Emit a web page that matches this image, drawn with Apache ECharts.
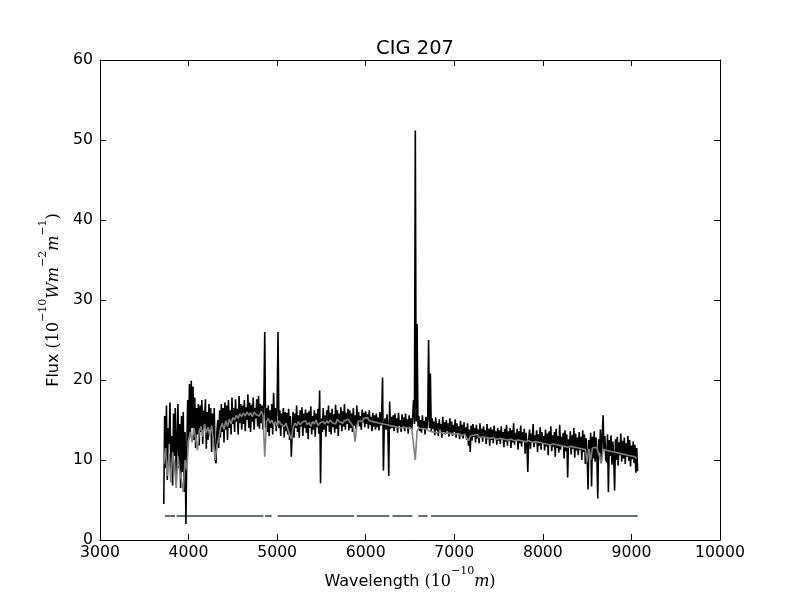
<!DOCTYPE html>
<html>
<head>
<meta charset="utf-8">
<script src="https://cdn.jsdelivr.net/npm/echarts@6/dist/echarts.min.js"></script>
<style>
html,body{margin:0;padding:0;background:#fff;}
#c{width:800px;height:600px;}
</style>
</head>
<body>
<div id="c"></div>
<script>
// Observed spectrum: wavelength grid start/step (Angstrom) and flux values
const OBS_START = 3720;
const OBS_STEP = 10;
const obsFlux = [
4.5,15.5,9,16.8,7.5,14,12,17.2,8.2,13,
6.8,15.8,10.5,16.5,7.8,12.5,17,9,14.5,6.5,
15.5,8.5,16,6,13.5,2,11,17.5,12.5,19.5,
13,19.9,14,19.2,12.5,17.8,11.5,16.5,13.2,17,
11.8,16.8,13.5,17.5,12,16.2,14.5,17.6,11.4,16,
12.5,17,13.8,16.5,11,15.8,12.8,16.5,10,9.6,
13.5,15,11.5,16.2,12.8,17,13.5,16.5,12.2,17.2,
13.8,16.8,12.5,17.5,14,16.2,13.2,17.8,14.5,16.5,
13.5,17.6,14.8,16.4,13.2,18,14.6,17,13.8,16.8,
14.5,17.5,13.6,16.6,15,18.2,14,17.2,13.5,16.9,
14.8,17.8,13.8,16.5,15.2,17.6,14.2,18,13.9,17,
14.6,16.8,13.8,17.2,26,14,16.5,13.5,16.8,13,
16.2,14,17,13.2,18.4,14.5,16.5,13.6,16.8,26,
14,16.2,13,15.8,14.2,16.5,12.8,16,13.6,15.9,
13.2,16.4,12.5,15.5,10.4,13.5,16,12.8,15.8,14,
16.8,13.5,15.6,12.8,16.2,14.2,16.6,13,15.8,14,
16.3,13.4,15.9,12.6,16.1,14,16.7,13.2,15.5,13.8,
16.2,12.9,15.8,14.1,16.4,13.3,18.7,7.1,15.2,13.5,
16.5,13.8,15.6,12.9,16.2,14.3,16.8,13.5,15.9,13.2,
16.4,14.1,15.7,13.4,16.9,13.9,16.2,13,15.8,14.4,
16.6,13.6,16.1,14.2,17,13.8,15.9,14.5,16.4,13.7,
16.2,14,15.8,13.5,16.5,14.3,15.6,13.9,16.8,14.6,
16,14.2,15.5,13.8,16.3,14.7,15.9,14.1,16.1,14.5,
15.7,13.9,16.2,14.4,15.4,13.6,15.9,14.2,15.6,13.8,
15.8,14.1,15.3,13.7,16,14.3,15.5,20.3,8.7,14.6,
15.2,13.8,15.7,14.2,8,17.3,13.9,15.4,14,15.6,
13.6,15.8,14.1,15.2,13.4,15.9,14.3,15,13.5,15.7,
14.2,15.3,13.6,15.8,14,15.1,13.3,15.6,14.1,15.2,
13.8,15.4,17.5,14.5,51.2,14.8,27,14.2,15.5,13.6,
15,13.4,15.6,14,14.9,13.2,15.4,13.8,15.1,25,
14,20.8,13.6,15.2,13.9,14.8,13.1,15.3,13.7,14.6,
13,15.1,13.8,14.5,12.8,15.4,13.5,14.7,13.2,15,
13.6,14.6,12.9,15.2,13.4,14.8,13,14.4,13.5,15.1,
12.8,14.6,13.3,14.2,12.6,14.9,13.1,14.4,12.7,14.7,
13.2,14.1,12.5,14.6,11.8,13.8,11,14.3,12.4,14.5,
12.9,14,12.2,14.4,12.7,13.8,12.1,14.6,12.8,13.9,
12.3,14.2,12.9,13.7,12,14.5,12.6,13.9,11.8,14.1,
12.5,13.8,12.1,14.3,12.7,13.6,11.9,14,12.4,13.7,
12,14.2,12.6,13.5,11.6,13.9,12.3,14.4,11.8,13.6,
12.4,14,11.5,13.7,12.2,14.6,11.9,13.4,12.5,13.9,
11.3,13.6,12.1,14.3,11.7,13.5,12.3,13.9,10.8,13.4,
12,8.5,12.6,13.8,11.4,13.3,12.2,14.5,11.6,13.1,
12.1,13.7,11,13.2,11.8,14.1,11.3,13.5,12,13,
11.2,13.8,11.7,13.3,10.6,13.6,11.9,14.2,11.1,13.1,
11.6,13.5,10.4,13.9,11.5,13,10.9,14.4,11.3,12.9,
11.8,13.4,10.2,13.7,11.1,13.2,7.8,12.6,11.5,13.6,
10.7,13.1,11.4,14,10.3,13.3,11.2,12.8,10.6,13.5,
11.3,12.9,10,13.7,11,13.2,9.5,12.7,10.8,6.3,
12.5,10.6,13.4,6.7,12.9,10.2,13.6,9.8,12.8,10.4,
5.2,12.6,10.9,13.8,9.6,12.9,15.6,11.2,13,10.1,
9.7,13.2,6,12.5,10.5,13.1,9.4,12.3,10.3,6.2,
12.6,10,12.9,9.3,12.2,10.6,13.3,9.8,12.4,10.2,
12.8,9.5,12.1,10.4,13,9.9,12.5,9.2,11.8,10.1,
12.3,9.6,11.9,8.4,11.5,8.6
];

// Model fit: wavelength grid start/step and flux values
const MODEL_START = 3720;
const MODEL_STEP = 20;
const modelFlux = [
9.5,11.5,8,10.8,7.2,11,9.5,6.5,10.5,8.5,
7.5,6,10,8.8,12.5,13.5,12.2,14,12.8,11.2,
13.6,14.2,12.9,14.5,13.4,14.1,13,14.3,12.4,10,
11.8,12.5,14,14.6,13.8,14.9,14.2,15.1,14.5,15.3,
15,15.6,15.2,15.8,15.4,15.9,15.5,16,15.6,15.9,
15.4,16,15.7,15.9,15.5,16.1,15.6,10.4,14.8,15.2,
14.6,15,14.4,14.8,14.3,14.9,14.5,14.7,14.2,14.6,
13.9,13.2,12.6,14,14.6,14.3,14.8,14.4,14.7,14.5,
14.9,14.4,14.7,14.2,14.8,14.5,15,14.3,14.6,14.4,
14.8,14.5,14.9,14.6,15,14.7,14.9,14.5,15.1,14.8,
15,14.6,14.9,14.7,15.1,14.8,14.6,14.2,12.3,14.3,
14.9,15.1,14.8,15.2,15,15.3,14.9,15.1,14.8,15,
14.7,14.9,14.6,14.8,14.5,14.7,14.4,14.6,14.3,14.5,
14.2,14.4,14.1,14.3,14,14.2,14.1,14.3,14,14.1,
13.9,14.1,10,13.6,14,13.8,13.9,13.7,13.9,13.8,
13.6,13.8,13.5,13.7,13.4,13.6,13.5,13.7,13.3,13.5,
13.4,13.6,13.3,13.5,13.2,13.4,13.3,13.5,13.1,13.3,
13.2,12.7,12.4,13,13.2,13.1,12.9,13.2,12.8,13,
12.9,13.1,12.8,13,12.7,12.9,12.8,13,12.6,12.8,
12.7,12.9,12.6,12.8,12.5,12.7,12.6,12.8,12.4,12.6,
12.5,12.7,12.4,12.6,12.3,12.5,12.4,12.6,12.2,12.4,
12.3,12.5,12.2,12.4,12.1,12.3,12,12.2,11.9,12.1,
12,12.2,11.9,12.1,11.8,12,11.7,11.9,11.6,11.8,
11.7,11.9,11.6,11.8,11.5,11.7,11.4,11.6,11.3,9.8,
11.4,10,11.5,11.3,11.6,11.2,11.4,9.6,11.3,11.5,
11.2,11.4,11.1,11.3,11,11.2,10.9,11.1,10.8,11,
10.7,10.9,10.6,10.8,10.5,10.7,10.4,10.2
];

// Fitted (unmasked) wavelength ranges, drawn at a constant level
const maskStart = [3734, 3866, 4863, 5005, 5898, 6303, 6594, 6737];
const maskEnd   = [3848, 4843, 4939, 5868, 6267, 6527, 6698, 9070];
const maskLevel = 3;

const xTicks = [3000, 4000, 5000, 6000, 7000, 8000, 9000, 10000];
const yTicks = [0, 10, 20, 30, 40, 50, 60];

const obsData = obsFlux.map((v, i) => [OBS_START + i * OBS_STEP, v]);
const modelData = modelFlux.map((v, i) => [MODEL_START + i * MODEL_STEP, v]);
const maskData = [];
maskStart.forEach((s, i) => {
  maskData.push([s, maskLevel], [maskEnd[i], maskLevel], [maskEnd[i], '-']);
});

const FONT = 'DejaVu Sans';
const SERIF = 'DejaVu Serif';

const chart = echarts.init(document.getElementById('c'), null, {renderer: 'canvas'});

const tickStyle = {show: true, inside: true, length: 6, lineStyle: {color: '#000', width: 1}};
const axLine = {show: true, onZero: false, lineStyle: {color: '#000', width: 1}};

function richName() {
  return {
    n: {fontFamily: FONT, fontSize: 16, color: '#000', lineHeight: 24, verticalAlign: 'bottom'},
    r: {fontFamily: SERIF, fontSize: 16, color: '#000', lineHeight: 24, verticalAlign: 'bottom'},
    s: {fontFamily: SERIF, fontSize: 11, color: '#000', lineHeight: 24, verticalAlign: 'top'},
    i: {fontFamily: SERIF, fontStyle: 'italic', fontSize: 16, color: '#000', lineHeight: 24, verticalAlign: 'bottom'}
  };
}

chart.setOption({
  animation: false,
  backgroundColor: '#fff',
  title: {
    text: 'CIG 207',
    left: 410, top: 34, textAlign: 'center',
    textStyle: {fontFamily: FONT, fontSize: 19.5, fontWeight: 'normal', color: '#000'}
  },
  grid: {left: 100, right: 80, top: 60, bottom: 60, containLabel: false, outerBoundsMode: 'none'},
  xAxis: [{
    type: 'value', min: xTicks[0], max: xTicks[xTicks.length - 1], interval: 1000,
    position: 'bottom',
    axisLine: axLine, axisTick: tickStyle, splitLine: {show: false},
    axisLabel: {fontFamily: FONT, fontSize: 15.7, color: '#000', margin: 5, formatter: v => String(v)},
    name: '{n|Wavelength }{r|(10}{s|−10}{i|m}{r|)}',
    nameLocation: 'middle', nameGap: 26,
    nameTextStyle: {rich: richName()}
  }, {
    type: 'value', min: xTicks[0], max: xTicks[xTicks.length - 1], interval: 1000,
    position: 'top',
    axisLine: axLine, axisTick: tickStyle, splitLine: {show: false},
    axisLabel: {show: false}
  }],
  yAxis: [{
    type: 'value', min: yTicks[0], max: yTicks[yTicks.length - 1], interval: 10,
    position: 'left',
    axisLine: axLine, axisTick: tickStyle, splitLine: {show: false},
    axisLabel: {fontFamily: FONT, fontSize: 15.7, color: '#000', margin: 7, formatter: v => String(v)},
    name: '{n|Flux }{r|(10}{s|−10}{i|Wm}{s|−2}{i|m}{s|−1}{r|)}',
    nameLocation: 'middle', nameGap: 36, nameRotate: 90,
    nameTextStyle: {rich: richName()}
  }, {
    type: 'value', min: yTicks[0], max: yTicks[yTicks.length - 1], interval: 10,
    position: 'right',
    axisLine: axLine, axisTick: tickStyle, splitLine: {show: false},
    axisLabel: {show: false}
  }],
  series: [{
    name: 'mask', type: 'line', data: maskData, xAxisIndex: 0, yAxisIndex: 0,
    showSymbol: false, symbol: 'none', connectNulls: false, z: 1,
    lineStyle: {color: '#627275', width: 2}
  }, {
    name: 'observed', type: 'line', data: obsData, xAxisIndex: 0, yAxisIndex: 0,
    showSymbol: false, symbol: 'none', z: 2,
    lineStyle: {color: '#000', width: 1.6}
  }, {
    name: 'model', type: 'line', data: modelData, xAxisIndex: 0, yAxisIndex: 0,
    showSymbol: false, symbol: 'none', z: 3,
    lineStyle: {color: '#808080', width: 1.6}
  }]
});
</script>
</body>
</html>
